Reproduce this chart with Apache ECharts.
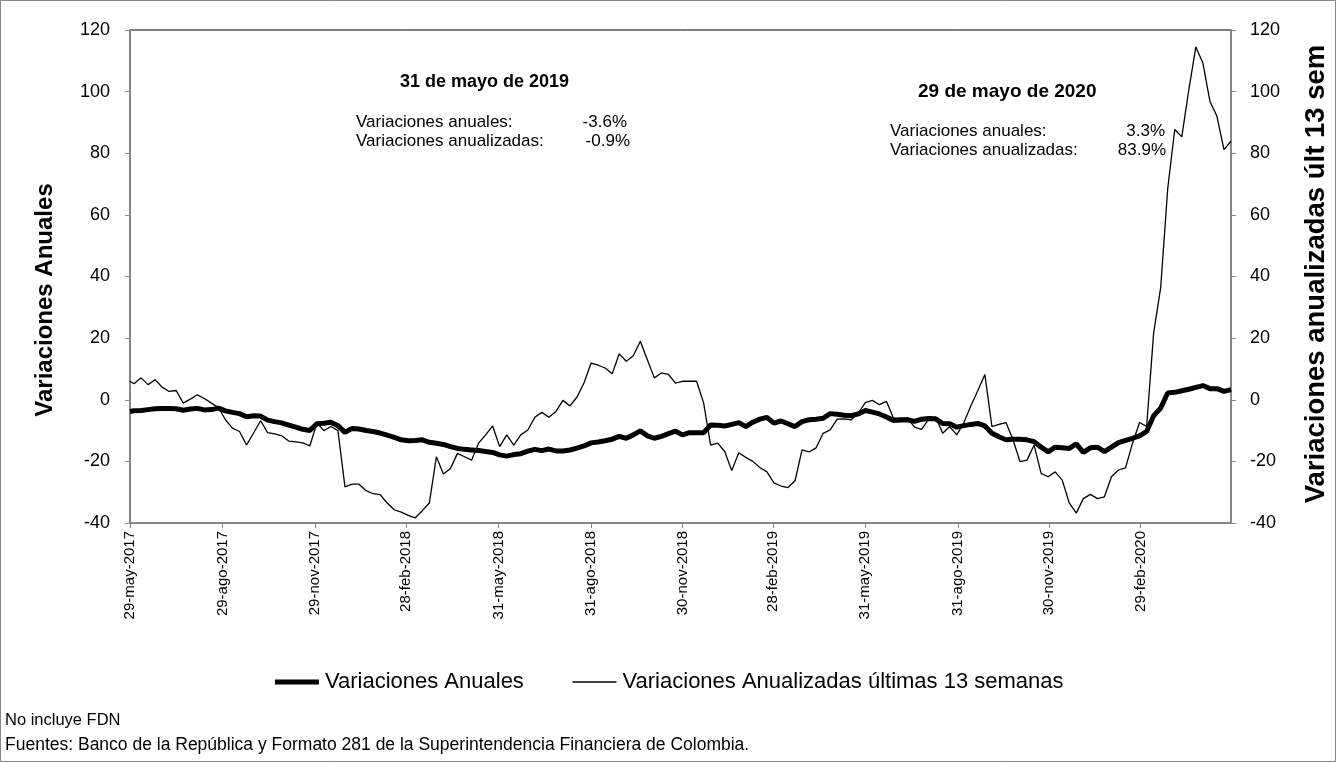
<!DOCTYPE html>
<html>
<head>
<meta charset="utf-8">
<script src="https://cdn.jsdelivr.net/npm/echarts@6/dist/echarts.min.js"></script>
<style>
  html, body { margin: 0; padding: 0; background: #fff; }
  #chart { width: 1336px; height: 762px; }
</style>
</head>
<body>
<div id="chart"></div>
<script>
// etiquetas del eje x (dias desde 29-may-2017)
const tickLabels = ['29-may-2017','29-ago-2017','29-nov-2017','28-feb-2018','31-may-2018','31-ago-2018',
  '30-nov-2018','28-feb-2019','31-may-2019','31-ago-2019','30-nov-2019','29-feb-2020'];
const tickDays = [0, 92, 184, 275, 367, 459, 550, 640, 732, 824, 915, 1006];

// variaciones anuales (linea gruesa)
const anuales = [
  -3.8,-3.6,-3.5,-3.2,-2.9,-2.8,-2.8,-2.9,-3.4,-3.0,-2.8,-3.3,-3.2,-2.7,-3.6,-4.1,-4.5,-5.5,-5.2,-5.3,
  -6.6,-7.1,-7.5,-8.2,-8.9,-9.6,-10.0,-7.8,-7.6,-7.3,-8.4,-10.6,-9.3,-9.5,-10.0,-10.3,-10.8,-11.5,-12.2,-13.0,
  -13.3,-13.2,-13.0,-13.8,-14.1,-14.5,-15.2,-15.8,-16.1,-16.3,-16.5,-16.8,-17.1,-17.9,-18.3,-17.8,-17.5,-16.7,-16.1,-16.5,
  -16.0,-16.6,-16.6,-16.3,-15.7,-15.0,-14.0,-13.7,-13.3,-12.8,-11.9,-12.5,-11.4,-10.1,-11.7,-12.5,-11.9,-11.0,-10.2,-11.4,
  -10.7,-10.7,-10.7,-8.2,-8.3,-8.5,-8.0,-7.4,-8.7,-7.3,-6.3,-5.7,-7.6,-6.9,-7.8,-8.7,-7.1,-6.5,-6.3,-6.0,
  -4.5,-4.7,-5.0,-5.2,-4.6,-3.5,-4.0,-4.6,-5.6,-6.7,-6.6,-6.5,-7.0,-6.3,-6.1,-6.2,-7.7,-7.8,-8.9,-8.4,
  -8.0,-7.7,-8.5,-10.9,-12.0,-13.0,-12.8,-12.8,-13.0,-13.6,-15.4,-16.9,-15.4,-15.6,-15.8,-14.3,-17.1,-15.6,-15.4,-16.8,
  -15.4,-13.9,-13.2,-12.5,-11.7,-10.3,-5.2,-2.7,2.2,2.4,2.9,3.4,4.0,4.6,3.6,3.6,2.7,3.3
];

// variaciones anualizadas ultimas 13 semanas (linea delgada)
const anualizadas = [
  6.0,5.2,7.1,4.9,6.5,4.1,2.7,3.0,-1.1,0.2,1.6,0.4,-1.1,-2.5,-6.5,-9.2,-10.3,-14.7,-10.8,-6.8,
  -10.7,-11.1,-11.7,-13.4,-13.7,-14.0,-15.0,-7.6,-10.0,-8.7,-10.0,-28.3,-27.4,-27.4,-29.5,-30.5,-30.8,-33.5,-35.7,-36.5,
  -37.5,-38.3,-36.0,-33.5,-18.5,-24.1,-22.3,-17.4,-18.5,-19.6,-14.1,-11.4,-8.5,-15.2,-11.4,-14.7,-11.4,-9.8,-5.7,-4.1,
  -5.7,-3.8,-0.2,-2.0,0.9,5.5,11.9,11.2,10.3,8.4,14.9,12.5,14.3,19.0,13.0,7.1,8.7,8.2,5.4,6.0,
  6.0,6.0,-1.0,-14.7,-14.1,-16.8,-23.0,-17.2,-18.7,-20.0,-22.0,-23.4,-27.0,-28.0,-28.5,-26.3,-16.3,-16.9,-15.6,-10.9,
  -9.8,-6.3,-6.2,-6.5,-4.3,-0.9,-0.2,-1.6,-0.5,-6.0,-6.0,-6.0,-8.9,-9.6,-6.3,-5.7,-10.9,-8.7,-11.4,-7.5,
  -2.0,3.0,8.2,-8.7,-8.0,-7.4,-13.0,-20.1,-19.6,-14.7,-23.9,-25.0,-23.4,-26.1,-33.5,-36.8,-32.1,-30.7,-32.1,-31.5,
  -25.0,-22.8,-22.1,-14.1,-7.4,-8.7,21.7,36.4,68.5,87.7,85.3,100.6,114.5,109.3,96.9,92.0,81.2,83.9
];

// primer dato el 29-may-2017, luego viernes semanales desde el 2-jun-2017
function dia(j) { return j === 0 ? 0 : 4 + 7 * (j - 1); }
const serieAnual = anuales.map((v, j) => [dia(j), v]);
const serieAnualizada = anualizadas.map((v, j) => [dia(j), v]);

const FONT = 'Arial, "Liberation Sans", sans-serif';
const gris = '#868686';

const chart = echarts.init(document.getElementById('chart'));

function ejeY(pos) {
  return {
    type: 'value', position: pos, min: -40, max: 120, interval: 20,
    axisLine: { show: true, lineStyle: { color: gris, width: 2 } },
    axisTick: { show: true, length: 5, lineStyle: { color: gris, width: 1 } },
    axisLabel: { fontFamily: FONT, fontSize: 18, color: '#000', margin: pos === 'left' ? 20 : 19 },
    splitLine: { show: false }
  };
}

// texto suelto: x,y en pixeles, alineado a la izquierda o derecha
function texto(x, y, t, font, align) {
  return {
    type: 'text', x: x, y: y,
    style: { text: t, font: font + 'px ' + FONT, fill: '#000', align: align || 'left', verticalAlign: 'middle' }
  };
}

chart.setOption({
  backgroundColor: '#fff',
  animation: false,
  grid: {
    left: 130, right: 105, top: 30, bottom: 239,
    show: true, borderColor: '#000', borderWidth: 1, backgroundColor: '#fff'
  },
  legend: {
    left: 'center', top: 666, itemWidth: 44, itemHeight: 12, itemGap: 48,
    textStyle: { fontFamily: FONT, fontSize: 22, color: '#000', padding: [0, 0, 0, 1] },
    itemStyle: { opacity: 0 },
    data: [
      { name: 'Variaciones Anuales', lineStyle: { width: 5, color: '#000' } },
      { name: 'Variaciones Anualizadas últimas 13 semanas', lineStyle: { width: 1.3, color: '#000' } }
    ]
  },
  xAxis: {
    type: 'value', min: 0, max: 1096,
    axisLine: { show: true, onZero: false, lineStyle: { color: gris, width: 2 } },
    axisTick: { show: true, length: 5, customValues: tickDays, lineStyle: { color: gris } },
    axisLabel: {
      customValues: tickDays, rotate: 90, margin: 8,
      fontFamily: FONT, fontSize: 15, color: '#000',
      formatter: (v) => { const k = tickDays.indexOf(v); return k >= 0 ? tickLabels[k] : ''; }
    },
    splitLine: { show: false }
  },
  yAxis: [ejeY('left'), ejeY('right')],
  series: [
    {
      name: 'Variaciones Anuales', type: 'line', data: serieAnual, yAxisIndex: 0,
      symbol: 'none', lineStyle: { color: '#000', width: 5 }, itemStyle: { color: '#000' }
    },
    {
      name: 'Variaciones Anualizadas últimas 13 semanas', type: 'line', data: serieAnualizada, yAxisIndex: 1,
      symbol: 'none', lineStyle: { color: '#000', width: 1.3 }, itemStyle: { color: '#000' }
    }
  ],
  graphic: [
    { type: 'rect', silent: true, z: -10, shape: { x: 0.5, y: 0.5, width: 1335, height: 761 },
      style: { fill: 'none', stroke: gris, lineWidth: 1 } },
    // titulos de ejes
    { type: 'text', x: 45, y: 300, rotation: Math.PI / 2,
      style: { text: 'Variaciones Anuales', font: 'bold 24px ' + FONT, fill: '#000', align: 'center', verticalAlign: 'middle' } },
    { type: 'text', x: 1316, y: 274, rotation: Math.PI / 2,
      style: { text: 'Variaciones anualizadas últ 13 sem', font: 'bold 27.5px ' + FONT, fill: '#000', align: 'center', verticalAlign: 'middle' } },
    // notas
    texto(400, 82, '31 de mayo de 2019', 'bold 18'),
    texto(356, 122, 'Variaciones anuales:', 17),
    texto(356, 141, 'Variaciones anualizadas:', 17),
    texto(627, 122, '-3.6%', 17, 'right'),
    texto(630, 141, '-0.9%', 17, 'right'),
    texto(918, 92, '29 de mayo de 2020', 'bold 19'),
    texto(890, 131, 'Variaciones anuales:', 17),
    texto(890, 150, 'Variaciones anualizadas:', 17),
    texto(1165, 131, '3.3%', 17, 'right'),
    texto(1166, 150, '83.9%', 17, 'right'),
    texto(5, 720, 'No incluye FDN', 16.5),
    texto(5, 745, 'Fuentes: Banco de la República y Formato 281 de la Superintendencia Financiera de Colombia.', 17.5)
  ]
});

window.onresize = function () { chart.resize(); };
</script>
</body>
</html>
